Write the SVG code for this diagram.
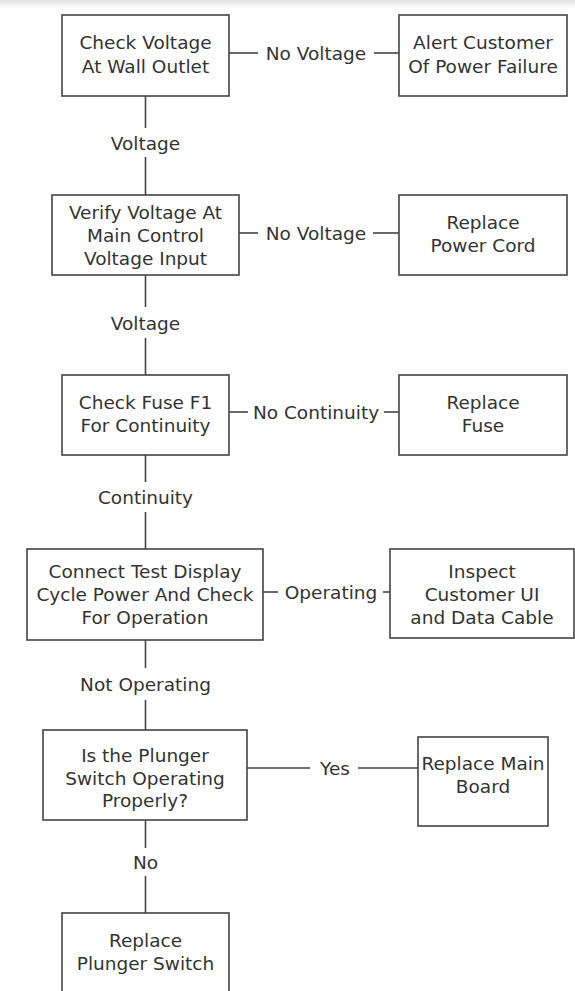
<svg xmlns="http://www.w3.org/2000/svg" width="575" height="991" viewBox="0 0 575 991">
<defs>
<linearGradient id="topShade" x1="0" y1="0" x2="0" y2="1">
<stop offset="0" stop-color="#e2e2e2"/>
<stop offset="1" stop-color="#ffffff"/>
</linearGradient>
<style>
.box{fill:#ffffff;stroke:#444444;stroke-width:1.6}
.ln{stroke:#444444;stroke-width:1.6;fill:none}
text{font-family:"DejaVu Sans",Verdana,sans-serif;font-size:18.5px;fill:#333333;text-anchor:middle}
</style>
</defs>
<rect x="0" y="0" width="575" height="991" fill="#ffffff"/>
<rect x="0" y="0" width="575" height="9" fill="url(#topShade)"/>
<g id="connectors">
<line class="ln" x1="145.5" y1="96" x2="145.5" y2="128"/>
<line class="ln" x1="145.5" y1="157" x2="145.5" y2="195"/>
<text x="145.5" y="149.5">Voltage</text>
<line class="ln" x1="145.5" y1="275" x2="145.5" y2="307"/>
<line class="ln" x1="145.5" y1="338" x2="145.5" y2="375"/>
<text x="145.5" y="329.5">Voltage</text>
<line class="ln" x1="145.5" y1="455" x2="145.5" y2="482"/>
<line class="ln" x1="145.5" y1="512" x2="145.5" y2="549"/>
<text x="145.5" y="503.5">Continuity</text>
<line class="ln" x1="145.5" y1="640" x2="145.5" y2="668"/>
<line class="ln" x1="145.5" y1="700" x2="145.5" y2="730"/>
<text x="145.5" y="690.5">Not Operating</text>
<line class="ln" x1="145.5" y1="820" x2="145.5" y2="848"/>
<line class="ln" x1="145.5" y1="876" x2="145.5" y2="913"/>
<text x="145.5" y="868.5">No</text>
<line class="ln" x1="229" y1="53" x2="258" y2="53"/>
<line class="ln" x1="374" y1="53" x2="399" y2="53"/>
<text x="316" y="59.5">No Voltage</text>
<line class="ln" x1="239" y1="233" x2="258" y2="233"/>
<line class="ln" x1="373" y1="233" x2="399" y2="233"/>
<text x="316" y="239.5">No Voltage</text>
<line class="ln" x1="229" y1="412" x2="248" y2="412"/>
<line class="ln" x1="384" y1="412" x2="399" y2="412"/>
<text x="316" y="418.5">No Continuity</text>
<line class="ln" x1="263" y1="592" x2="278" y2="592"/>
<line class="ln" x1="383" y1="592" x2="390" y2="592"/>
<text x="331" y="598.5">Operating</text>
<line class="ln" x1="247" y1="768" x2="310" y2="768"/>
<line class="ln" x1="358" y1="768" x2="418" y2="768"/>
<text x="335" y="774.5">Yes</text>
</g>
<g id="check-wall">
<rect class="box" x="62" y="15" width="167" height="81"/>
<text x="145.5" y="48.5">Check Voltage</text>
<text x="145.5" y="72.5">At Wall Outlet</text>
</g>
<g id="alert-customer">
<rect class="box" x="399" y="15" width="168" height="81"/>
<text x="483" y="48.5">Alert Customer</text>
<text x="483" y="72.5">Of Power Failure</text>
</g>
<g id="verify-main">
<rect class="box" x="52" y="195" width="187" height="80"/>
<text x="145.5" y="218.5">Verify Voltage At</text>
<text x="145.5" y="242">Main Control</text>
<text x="145.5" y="264.5">Voltage Input</text>
</g>
<g id="replace-cord">
<rect class="box" x="399" y="195" width="168" height="80"/>
<text x="483" y="228.5">Replace</text>
<text x="483" y="251.5">Power Cord</text>
</g>
<g id="check-fuse">
<rect class="box" x="62" y="375" width="167" height="80"/>
<text x="145.5" y="408.5">Check Fuse F1</text>
<text x="145.5" y="431.5">For Continuity</text>
</g>
<g id="replace-fuse">
<rect class="box" x="399" y="375" width="168" height="80"/>
<text x="483" y="408.5">Replace</text>
<text x="483" y="431.5">Fuse</text>
</g>
<g id="connect-display">
<rect class="box" x="27" y="549" width="236" height="91"/>
<text x="145" y="577.5">Connect Test Display</text>
<text x="145" y="600.5">Cycle Power And Check</text>
<text x="145" y="623.5">For Operation</text>
</g>
<g id="inspect-ui">
<rect class="box" x="390" y="549" width="184" height="89"/>
<text x="482" y="577.5">Inspect</text>
<text x="482" y="600.5">Customer UI</text>
<text x="482" y="623.5">and Data Cable</text>
</g>
<g id="plunger-question">
<rect class="box" x="43" y="730" width="204" height="90"/>
<text x="145" y="761.5">Is the Plunger</text>
<text x="145" y="784.5">Switch Operating</text>
<text x="145" y="806.5">Properly?</text>
</g>
<g id="replace-board">
<rect class="box" x="418" y="737" width="130" height="89"/>
<text x="483" y="769.5">Replace Main</text>
<text x="483" y="792.5">Board</text>
</g>
<g id="replace-plunger">
<rect class="box" x="62" y="913" width="167" height="100"/>
<text x="145.5" y="946.5">Replace</text>
<text x="145.5" y="969.5">Plunger Switch</text>
</g>
</svg>
